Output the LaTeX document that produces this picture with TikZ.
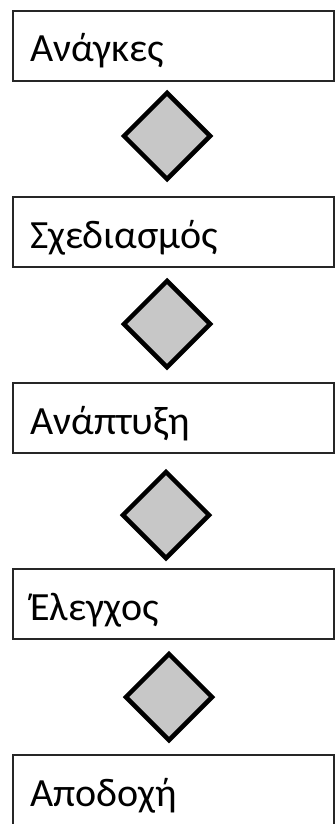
\documentclass[tikz,border=0pt]{standalone}
\usepackage{fontspec}
\setmainfont{Carlito}
\usetikzlibrary{shapes.geometric}
\begin{document}
\begin{tikzpicture}[x=1pt,y=-1pt,
  stagebox/.style={draw=black!85, line width=1.8pt, rectangle, minimum width=321pt, minimum height=70pt, inner sep=0pt, anchor=north west},
  lbl/.style={anchor=base west, inner sep=0pt, font=\fontsize{40}{44}\selectfont},
  gem/.style={draw=black, line width=4.5pt, fill=black!22, diamond, aspect=1, minimum width=88pt, minimum height=88pt, inner sep=0pt, line join=miter}]
\useasboundingbox (0,0) rectangle (336,824);
\node[stagebox] (b1) at (12,10) {};
\node[stagebox] (b2) at (12,196) {};
\node[stagebox] (b3) at (12,382) {};
\node[stagebox] (b4) at (12,568) {};
\node[stagebox, minimum height=74pt] (b5) at (12,754) {};
\node[lbl] (t1) at ([xshift=18pt,yshift=-52pt]b1.north west) {Ανάγκες};
\node[lbl] (t2) at ([xshift=18pt,yshift=-52pt]b2.north west) {Σχεδιασμός};
\node[lbl] (t3) at ([xshift=18pt,yshift=-52pt]b3.north west) {Ανάπτυξη};
\node[lbl] (t4) at ([xshift=18pt,yshift=-52pt]b4.north west) {Έλεγχος};
\node[lbl] (t5) at ([xshift=18pt,yshift=-52pt]b5.north west) {Αποδοχή};
\node[gem] (d1) at (167,136) {};
\node[gem] (d2) at (167,324) {};
\node[gem] (d3) at (166,515) {};
\node[gem] (d4) at (169,697) {};
\end{tikzpicture}
\end{document}
